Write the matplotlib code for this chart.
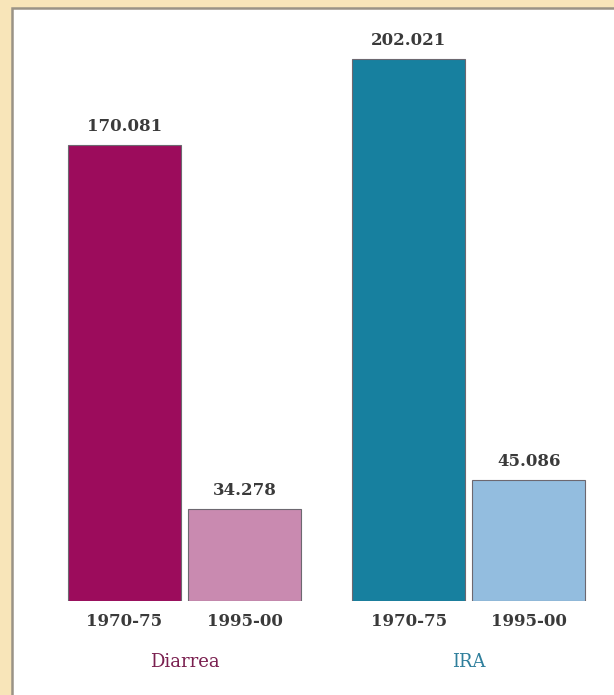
import matplotlib
matplotlib.use("Agg")
import matplotlib.pyplot as plt
from matplotlib.patches import Rectangle
import matplotlib.transforms as mtransforms

groups = ["Diarrea", "IRA"]
periods = ["1970-75", "1995-00"]
values = [[170.081, 34.278], [202.021, 45.086]]
value_labels = [["170.081", "34.278"], ["202.021", "45.086"]]
bar_colors = [["#9c0c5c", "#c98ab0"], ["#17809f", "#93bddf"]]
group_colors = ["#7a1f4f", "#2f7f9c"]

W, H = 614, 695
fig = plt.figure(figsize=(W / 100, H / 100), dpi=100)
fig.patch.set_facecolor("#f8e5b9")

# inner white panel (extends beyond right and bottom edges)
panel = Rectangle((12 / W, -20 / H), (W + 20) / W, (H - 8 + 20) / H, transform=fig.transFigure,
                  facecolor="white", edgecolor="#9a9386", linewidth=1.8, zorder=-1)
fig.patches.append(panel)

base_px = 601
ax = fig.add_axes([0, (H - base_px) / H, 1, base_px / H])
ax.set_zorder(2)
ax.set_facecolor("none")
unit = 120.0
ax.set_xlim(-124.5 / unit, (W - 124.5) / unit)
ax.set_ylim(0, 224)
ax.axis("off")

group_pos = [0.0, 2.37]
width = 113 / unit
serif = ["DejaVu Serif"]
blend = mtransforms.blended_transform_factory(ax.transData, ax.transAxes)
for gi, g in enumerate(groups):
    for pi, p in enumerate(periods):
        x = group_pos[gi] + pi
        v = values[gi][pi]
        ax.bar(x, v, width=width, color=bar_colors[gi][pi], edgecolor="#6d6870",
               linewidth=0.8, zorder=2)
        ax.annotate(value_labels[gi][pi], (x, v), xytext=(0, 7), textcoords="offset points",
                    ha="center", va="bottom", fontsize=12, fontweight="bold",
                    family=serif, color="#3a3a3a")
        ax.text(x, -20 / base_px, p, transform=blend,
                ha="center", va="center", fontsize=12, fontweight="bold",
                family=serif, color="#3a3a3a", clip_on=False)
    cx = group_pos[gi] + 0.5
    ax.text(cx, -61 / base_px, g, transform=blend,
            ha="center", va="center", fontsize=13, family=serif, color=group_colors[gi], clip_on=False)

fig.savefig("out.png", dpi=100, facecolor=fig.get_facecolor())
